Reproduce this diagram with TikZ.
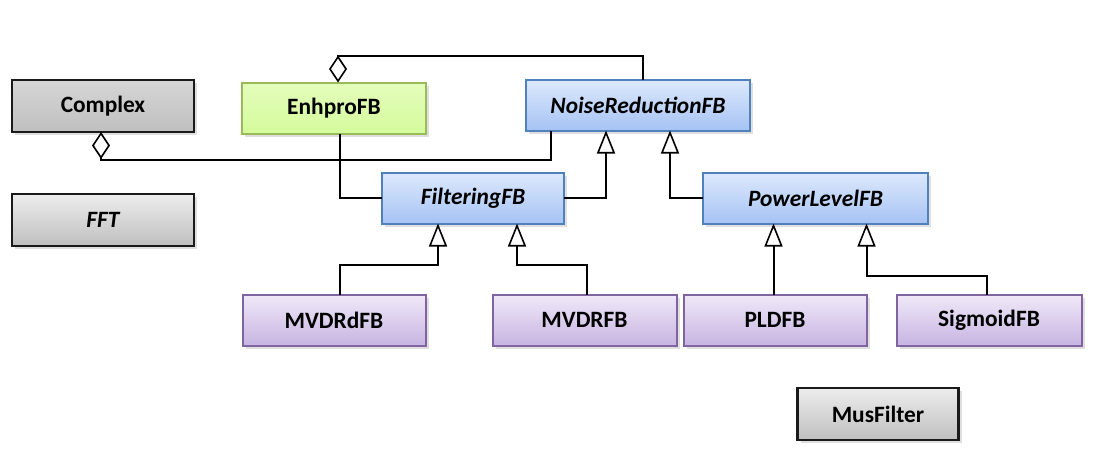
\documentclass[tikz,border=0pt]{standalone}
\usepackage{fontspec}
\setmainfont{Carlito}
\usepackage{tikz}
\usetikzlibrary{arrows.meta,positioning,shadows}

\definecolor{cpxTop}{HTML}{D6D6D6}
\definecolor{gryTop}{HTML}{EDEDED}
\definecolor{gryBot}{HTML}{BFBFBF}
\definecolor{gryLine}{HTML}{1A1A1A}
\definecolor{grnTop}{HTML}{E4FDBC}
\definecolor{grnBot}{HTML}{D4FB9C}
\definecolor{grnLine}{HTML}{9BBB59}
\definecolor{bluTop}{HTML}{DDE9FC}
\definecolor{bluBot}{HTML}{A6C3F4}
\definecolor{bluLine}{HTML}{4F81BD}
\definecolor{prpTop}{HTML}{F0E9F8}
\definecolor{prpBot}{HTML}{C7B4E2}
\definecolor{prpLine}{HTML}{8064A2}

\begin{document}
\begin{tikzpicture}[
    x=0.5pt, y=-0.5pt,
    font=\fontsize{11.7}{14}\selectfont\bfseries,
    cls/.style={rectangle, inner sep=0pt, outer sep=0pt, minimum width=91pt, minimum height=25.5pt,
      drop shadow={opacity=0.25, shadow xshift=1.5pt, shadow yshift=-1.5pt}},
    grybox/.style={cls, draw=gryLine, line width=1.3pt, top color=gryTop, bottom color=gryBot},
    grnbox/.style={cls, draw=grnLine, line width=1pt, top color=grnTop, bottom color=grnBot},
    blubox/.style={cls, draw=bluLine, line width=1pt, top color=bluTop, bottom color=bluBot},
    prpbox/.style={cls, draw=prpLine, line width=1pt, top color=prpTop, bottom color=prpBot},
    abst/.style={font=\fontsize{11.7}{14}\selectfont\bfseries\itshape},
    conn/.style={line width=1pt, draw=black},
    inh/.style={conn, -{Triangle[open, length=11.5pt, width=9pt, line width=0.8pt]}},
    aggr/.style={conn, -{Diamond[open, length=13.5pt, width=9pt, line width=0.8pt]}},
  ]
    \useasboundingbox (0,0) rectangle (1096,471);

    % classes
    \node[grybox, top color=cpxTop, minimum height=26pt] (cpx) at (103,106) {Complex};
    \node[grybox, abst, minimum height=26pt, below=31pt of cpx] (fft) {FFT};
    \node[grnbox, minimum width=92pt, right=24pt of cpx, yshift=-1pt] (enh) {EnhproFB};
    \node[blubox, abst, minimum width=112pt, right=50pt of enh, yshift=1.5pt] (nr) {NoiseReductionFB};
    \node[blubox, abst] (filt) at (473,198) {FilteringFB};
    \node[blubox, abst, minimum width=112.5pt, right=69.5pt of filt] (plev) {PowerLevelFB};
    \node[prpbox, minimum width=91.5pt] (mvdd) at (334,320) {MVDRdFB};
    \node[prpbox, minimum width=92pt, right=33.5pt of mvdd] (mvdr) {MVDRFB};
    \node[prpbox, minimum width=91.5pt, right=3.5pt of mvdr] (pld) {PLDFB};
    \node[prpbox, minimum width=92.5pt, right=15pt of pld] (sig) {SigmoidFB};
    \node[grybox, minimum width=80.5pt, minimum height=26pt] (mus) at (878,414) {MusFilter};

    % aggregations
    \draw[aggr] ([xshift=2.5pt]nr.north) -- ++(0,-24) -| ([xshift=2pt]enh.north);
    \draw[aggr] ([xshift=-43.5pt]nr.south) -- ++(0,29) -| ([xshift=-1pt]cpx.south);
    \draw[conn] ([xshift=3pt]enh.south) |- (filt.west);

    % inheritance
    \draw[inh] (filt.east) -| ([xshift=-16pt]nr.south);
    \draw[inh] (plev.west) -| ([xshift=16pt]nr.south);
    \draw[inh] ([xshift=3pt]mvdd.north) -- ++(0,-30) -| ([xshift=-17.5pt]filt.south);
    \draw[inh] ([xshift=1pt]mvdr.north) -- ++(0,-30) -| ([xshift=22pt]filt.south);
    \draw[inh] ([xshift=-21pt]plev.south |- pld.north) -- ([xshift=-21pt]plev.south);
    \draw[inh] ([xshift=-1pt]sig.north) -- ++(0,-19) -| ([xshift=25.5pt]plev.south);
\end{tikzpicture}
\end{document}
